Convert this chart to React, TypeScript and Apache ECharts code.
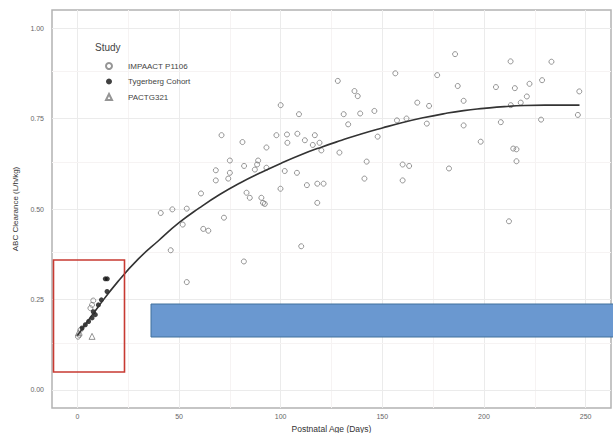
import React, { useEffect, useRef } from "react";
import * as echarts from "echarts";

// ---- data ----
const impaactAge = [
  128.1, 136.3, 137.9, 100, 109, 131, 139.1, 146.1, 133.2, 70.9,
  81.2, 97.9, 103.1, 108.2, 116.8, 111.9, 103.3, 115.8, 119.1, 93,
  147.7, 185.8, 213.1, 233.2, 156.4, 177, 187.1, 205.9, 215.2, 222.4,
  228.6, 246.9, 221.1, 218.1, 213.2, 167.2, 173, 190, 157.2, 161.9,
  171.9, 190, 208.3, 228.1, 246.2, 198.4, 214.4, 216, 216, 120,
  128.9, 142.3, 141.2, 75, 82, 88.9, 88.4, 87.3, 93, 68.1,
  75, 102, 108, 68.1, 74.2, 112.9, 118, 121.1, 99.9, 60.8,
  83.2, 84.8, 90.5, 91.3, 92.2, 118, 41, 46.7, 53.8, 72.1,
  51.8, 61.9, 64.4, 45.9, 110.1, 81.9, 53.8, 160, 163.2, 182.8,
  160, 212.3, 7.2, 6.4, 7.8, 1, 0.3, 1.5,
];
const impaactClearance = [
  0.854, 0.826, 0.812, 0.787, 0.762, 0.762, 0.764, 0.771, 0.734, 0.704,
  0.685, 0.704, 0.706, 0.708, 0.704, 0.69, 0.683, 0.677, 0.683, 0.67,
  0.7, 0.928, 0.908, 0.907, 0.875, 0.87, 0.84, 0.837, 0.834, 0.846,
  0.856, 0.825, 0.811, 0.794, 0.787, 0.794, 0.785, 0.799, 0.745, 0.75,
  0.736, 0.731, 0.74, 0.747, 0.76, 0.686, 0.667, 0.665, 0.632, 0.662,
  0.656, 0.631, 0.584, 0.634, 0.619, 0.634, 0.623, 0.609, 0.614, 0.607,
  0.6, 0.605, 0.6, 0.579, 0.584, 0.566, 0.57, 0.57, 0.556, 0.543,
  0.545, 0.531, 0.531, 0.517, 0.514, 0.517, 0.489, 0.499, 0.501, 0.476,
  0.457, 0.445, 0.44, 0.386, 0.397, 0.355, 0.298, 0.623, 0.619, 0.612,
  0.579, 0.466, 0.235, 0.226, 0.247, 0.152, 0.147, 0.166,
];
const tygerbergAge = [13.7, 14.7, 14.6, 11.8, 10.3, 8.8, 7.8, 7.2, 5.5, 3.9, 2.3];
const tygerbergClearance = [0.307, 0.307, 0.272, 0.249, 0.235, 0.208, 0.216, 0.199, 0.189, 0.18, 0.171];
const pactgAge = [7.2, 0.5];
const pactgClearance = [0.148, 0.158];

const fitAge = [0, 10, 20, 30, 40, 50, 60, 70, 80, 90, 100, 110, 120, 130, 140, 150, 160, 170, 180, 190, 200, 210, 220, 230, 247];
const fitClearance = [0.15, 0.228, 0.3, 0.362, 0.413, 0.462, 0.503, 0.54, 0.572, 0.6, 0.626, 0.65, 0.671, 0.69, 0.708, 0.724, 0.739, 0.752, 0.763, 0.772, 0.778, 0.783, 0.786, 0.787, 0.787];

const xMajorTicks = [0, 50, 100, 150, 200, 250];
const xMinorTicks = [25, 75, 125, 175, 225];
const yMajorTicks = [0, 0.25, 0.5, 0.75, 1.0];
const yMinorTicks = [0.125, 0.375, 0.625, 0.875];

const seriesNames = ["IMPAACT P1106", "Tygerberg Cohort", "PACTG321"];

const zip = (a: number[], b: number[]) => a.map((v, i) => [v, b[i]]);

export default function App() {
  const ref = useRef<HTMLDivElement>(null);
  useEffect(() => {
    if (!ref.current) return;
    const chart = echarts.init(ref.current, null, { renderer: "svg" });
    const font = "Liberation Sans";
    const gridLines = [
      ...xMajorTicks.map((v) => ({ xAxis: v, lineStyle: { color: "#ebebeb", width: 1, type: "solid" } })),
      ...xMinorTicks.map((v) => ({ xAxis: v, lineStyle: { color: "#f6f3f3", width: 1, type: "solid" } })),
      ...yMajorTicks.map((v) => ({ yAxis: v, lineStyle: { color: "#ebebeb", width: 1, type: "solid" } })),
      ...yMinorTicks.map((v) => ({ yAxis: v, lineStyle: { color: "#f6f3f3", width: 1, type: "solid" } })),
    ];
    chart.setOption({
      animation: false,
      backgroundColor: "#ffffff",
      textStyle: { fontFamily: font },
      title: {
        text: "Study",
        left: 90,
        top: 37,
        textStyle: { fontSize: 10, fontWeight: "normal", color: "#444", fontFamily: font },
      },
      legend: {
        data: seriesNames,
        orient: "vertical",
        left: 100,
        top: 56,
        itemWidth: 6,
        itemHeight: 6,
        itemGap: 5.5,
        textStyle: { fontSize: 8, color: "#444", lineHeight: 10, padding: [0, 0, 0, 11], fontFamily: font },
      },
      grid: {
        left: 52,
        top: 10,
        right: 2,
        bottom: 25,
        outerBoundsMode: "none",
        containLabel: false,
        show: true,
        borderColor: "#b3b3b3",
        borderWidth: 1.5,
        backgroundColor: "#ffffff",
      },
      xAxis: {
        type: "value",
        min: -12.5,
        max: 262.5,
        name: "Postnatal Age (Days)",
        nameLocation: "middle",
        nameGap: 12,
        nameTextStyle: { fontSize: 8.5, color: "#333", fontFamily: font },
        axisLine: { show: false },
        axisTick: { show: true, length: 3, customValues: xMajorTicks, lineStyle: { color: "#888" } },
        axisLabel: { customValues: xMajorTicks, fontSize: 7, color: "#666", margin: 5, fontFamily: font },
        splitLine: { show: false },
      },
      yAxis: {
        type: "value",
        min: -0.05,
        max: 1.05,
        name: "ABC Clearance (L/h/kg)",
        nameLocation: "middle",
        nameGap: 25,
        nameTextStyle: { fontSize: 8, color: "#333", fontFamily: font },
        axisLine: { show: false },
        axisTick: { show: true, length: 4, customValues: yMajorTicks, lineStyle: { color: "#888" } },
        axisLabel: {
          customValues: yMajorTicks,
          fontSize: 7,
          color: "#666",
          margin: 8,
          fontFamily: font,
          formatter: (v: number) => v.toFixed(2),
        },
        splitLine: { show: false },
      },
      series: [
        {
          name: seriesNames[0],
          type: "scatter",
          symbol: "circle",
          symbolSize: 5,
          z: 3,
          itemStyle: { color: "rgba(0,0,0,0)", borderColor: "#7a7a7a", borderWidth: 1 },
          data: zip(impaactAge, impaactClearance),
          markLine: {
            silent: true,
            z: 1,
            symbol: ["none", "none"],
            label: { show: false },
            emphasis: { disabled: true },
            data: gridLines,
          },
        },
        {
          name: seriesNames[1],
          type: "scatter",
          symbol: "circle",
          symbolSize: 5,
          z: 4,
          itemStyle: { color: "#111111" },
          data: zip(tygerbergAge, tygerbergClearance),
        },
        {
          name: seriesNames[2],
          type: "scatter",
          symbol: "triangle",
          symbolSize: 6,
          z: 4,
          itemStyle: { color: "rgba(0,0,0,0)", borderColor: "#7a7a7a", borderWidth: 1 },
          data: zip(pactgAge, pactgClearance),
        },
        {
          name: "fit",
          type: "line",
          smooth: true,
          showSymbol: false,
          z: 5,
          lineStyle: { color: "#333333", width: 1.6 },
          data: zip(fitAge, fitClearance),
        },
      ],
      graphic: [
        {
          type: "rect",
          z: 100,
          shape: { x: 53.5, y: 260, width: 71, height: 112 },
          style: { fill: "rgba(0,0,0,0)", stroke: "#c83a32", lineWidth: 1.6 },
        },
        {
          type: "rect",
          z: 100,
          shape: { x: 151, y: 304, width: 470, height: 33 },
          style: { fill: "#6a98d0", stroke: "#41719c", lineWidth: 1 },
        },
      ],
    });
    return () => chart.dispose();
  }, []);
  return (
    <div
      ref={ref}
      style={{ position: "fixed", left: 0, top: 0, width: 613, height: 433, background: "#fff" }}
    />
  );
}
